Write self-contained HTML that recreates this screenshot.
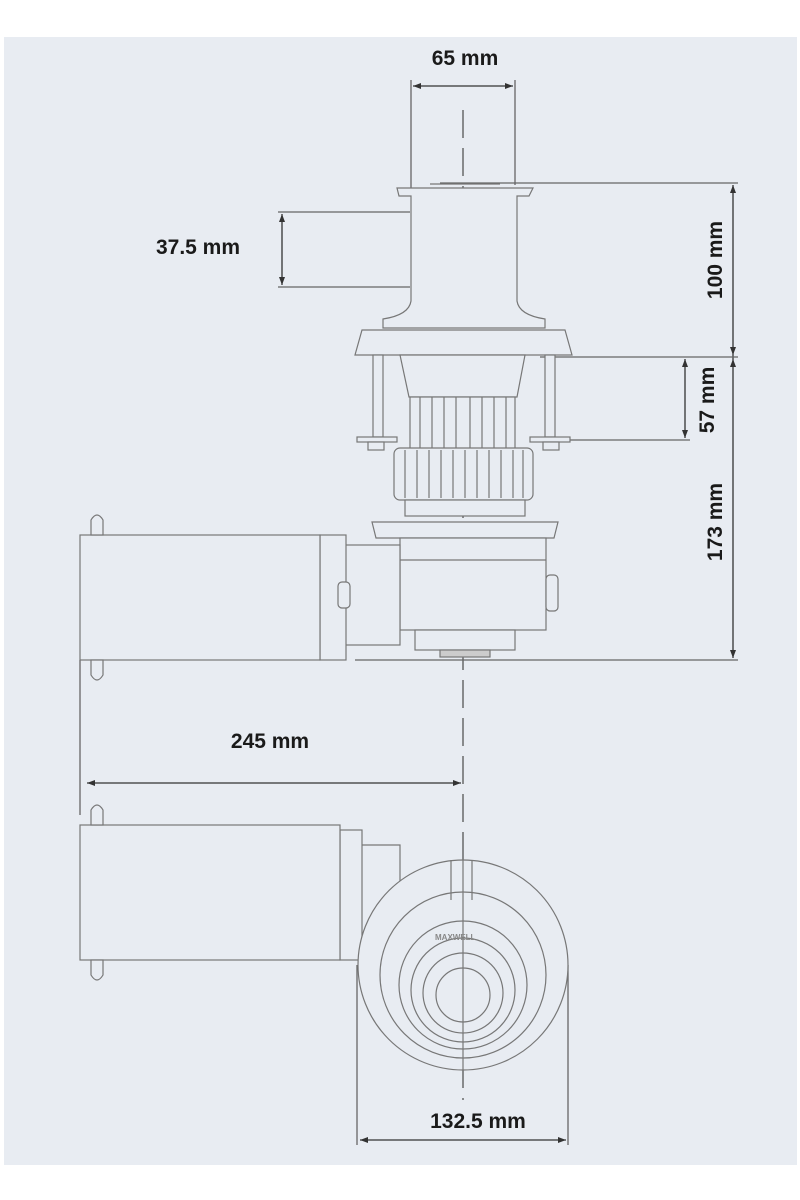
<!DOCTYPE html>
<html><head><meta charset="utf-8"><style>
html,body{margin:0;padding:0;background:#fff;}
svg{display:block}
text{font-family:"Liberation Sans",sans-serif;font-weight:bold;fill:#1a1a1a;}
</style></head><body>
<svg width="800" height="1200" viewBox="0 0 800 1200" xmlns="http://www.w3.org/2000/svg">
<rect x="4" y="37" width="793" height="1128" fill="#e8ecf2"/>
<g fill="none" stroke="#666" stroke-width="1.3">
<!-- centerline -->
<line x1="463" y1="110" x2="463" y2="1100" stroke-dasharray="28,10" stroke="#555"/>
<!-- 65 dim -->
<line x1="411" y1="80" x2="411" y2="195"/><line x1="515" y1="80" x2="515" y2="185"/>
<line x1="413" y1="86" x2="513" y2="86" stroke="#333"/>
<!-- top ext 100 -->
<line x1="440" y1="183" x2="738" y2="183"/>
<line x1="733" y1="185" x2="733" y2="658" stroke="#333"/>
<line x1="278" y1="212" x2="410" y2="212"/><line x1="278" y1="287" x2="410" y2="287"/>
<line x1="282" y1="214" x2="282" y2="285" stroke="#333"/>
<line x1="540" y1="357" x2="738" y2="357"/><line x1="540" y1="440" x2="690" y2="440"/>
<line x1="685" y1="359" x2="685" y2="438" stroke="#333"/>
<line x1="355" y1="660" x2="738" y2="660"/>
<!-- 245 -->
<line x1="80" y1="660" x2="80" y2="815"/>
<line x1="87" y1="783" x2="461" y2="783" stroke="#333"/>
<!-- 132.5 -->
<line x1="357" y1="965" x2="357" y2="1145"/><line x1="568" y1="965" x2="568" y2="1145"/>
<line x1="360" y1="1140" x2="566" y2="1140" stroke="#333"/>
</g>
<g fill="#333">
<path d="M413 86 l8 -3 v6z M513 86 l-8 -3 v6z"/>
<path d="M733 185 l-3 8 h6z M733 355 l-3 -8 h6z M733 359 l-3 8 h6z M733 658 l-3 -8 h6z"/>
<path d="M282 214 l-3 8 h6z M282 285 l-3 -8 h6z"/>
<path d="M685 359 l-3 8 h6z M685 438 l-3 -8 h6z"/>
<path d="M87 783 l8 -3 v6z M461 783 l-8 -3 v6z"/>
<path d="M360 1140 l8 -3 v6z M566 1140 l-8 -3 v6z"/>
</g>
<g fill="#e8ecf2" stroke="#777" stroke-width="1.2">
<!-- capstan -->
<path d="M397 188 h136 l-4 8 h-12 v105 q2 14 28 18 v9 h-162 v-9 q26 -4 28 -18 v-105 h-12z"/>
<line x1="430" y1="184" x2="500" y2="184"/>
<path d="M362 330 h203 l7 25 h-217z"/>
<!-- bolts -->
<rect x="373" y="355" width="10" height="82"/><rect x="545" y="355" width="10" height="82"/>
<rect x="357" y="437" width="40" height="5"/><rect x="530" y="437" width="40" height="5"/>
<rect x="368" y="442" width="16" height="8"/><rect x="543" y="442" width="16" height="8"/>
<path d="M400 355 h125 l-8 42 h-108z"/>
<rect x="410" y="397" width="105" height="52"/>
<path d="M420 397 v52 M432 397 v52 M444 397 v52 M456 397 v52 M470 397 v52 M482 397 v52 M494 397 v52 M506 397 v52"/>
<rect x="394" y="448" width="139" height="52" rx="6"/>
<path d="M405 450 v48 M417 450 v48 M429 450 v48 M441 450 v48 M453 450 v48 M465 450 v48 M477 450 v48 M489 450 v48 M501 450 v48 M513 450 v48 M523 450 v48"/>
<rect x="405" y="500" width="120" height="16"/>
<path d="M372 522 h186 l-4 16 h-178z"/>
<rect x="400" y="538" width="146" height="92"/>
<line x1="400" y1="560" x2="546" y2="560"/>
<rect x="546" y="575" width="12" height="36" rx="4"/>
<rect x="415" y="630" width="100" height="20"/>
<rect x="440" y="650" width="50" height="7" fill="#ccc"/>
<!-- motor top -->
<rect x="345" y="545" width="55" height="100"/>
<rect x="320" y="535" width="26" height="125"/>
<rect x="338" y="582" width="12" height="26" rx="4"/>
<rect x="80" y="535" width="240" height="125"/>
<path d="M91 535 v-15 q6 -10 12 0 v15z"/><path d="M91 660 v15 q6 10 12 0 v-15z"/>
<!-- lower view -->
<path d="M360 893 v-48 h40 v48"/>
<rect x="340" y="830" width="22" height="130"/>
<rect x="80" y="825" width="260" height="135"/>
<path d="M91 825 v-15 q6 -10 12 0 v15z"/><path d="M91 960 v15 q6 10 12 0 v-15z"/>
<path d="M505 875 l30 20 l4 20"/>
<circle cx="463" cy="965" r="105"/>
<circle cx="463" cy="975" r="83"/>
<circle cx="463" cy="985" r="64"/>
<circle cx="463" cy="990" r="52"/>
<circle cx="463" cy="993" r="40"/>
<circle cx="463" cy="995" r="27"/>
<line x1="451" y1="860" x2="451" y2="900"/><line x1="472" y1="860" x2="472" y2="900"/>
<line x1="463" y1="860" x2="463" y2="1070" stroke-dasharray="none"/>
</g>
<text x="435" y="940" font-size="8" fill="#888" style="fill:#888">MAXWELL</text>
<text x="465" y="65" font-size="21" text-anchor="middle">65 mm</text>
<text x="198" y="254" font-size="21" text-anchor="middle">37.5 mm</text>
<text x="270" y="748" font-size="21" text-anchor="middle">245 mm</text>
<text x="478" y="1128" font-size="21" text-anchor="middle">132.5 mm</text>
<text transform="translate(722,260) rotate(-90)" font-size="21" text-anchor="middle">100 mm</text>
<text transform="translate(714,400) rotate(-90)" font-size="21" text-anchor="middle">57 mm</text>
<text transform="translate(722,522) rotate(-90)" font-size="21" text-anchor="middle">173 mm</text>
</svg>
</body></html>
